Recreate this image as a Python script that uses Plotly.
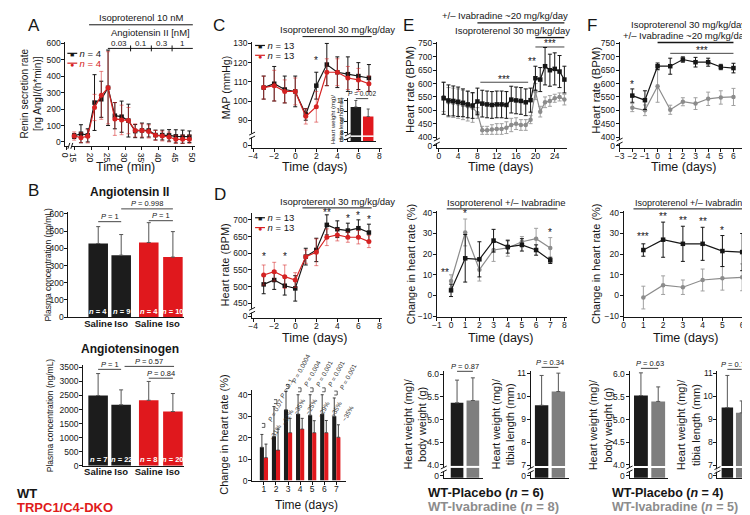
import plotly.graph_objects as go

W, H = 750, 515
FONT = "Liberation Sans, Arial, Helvetica, sans-serif"
BLACK = "#161616"
RED = "#d52222"
RED_ERR = "rgba(213,34,34,0.55)"
GRAY = "#8c8c8c"
GRAY_ERR = "#a0a0a0"
BAR_BLACK = "#1c1c1c"
BAR_RED = "#e0181d"
BAR_GRAY = "#7e7e7e"
ERR = "#555555"

# ---------------- data ----------------
# A: renin secretion rate
renin_time = [15, 17, 19, 21, 23, 25, 27, 29, 31, 33, 35, 37, 39, 41, 43, 45, 47, 49]
renin_wt = [36, 50, 40, 240, 260, 330, 160, 154, 130, 66, 70, 70, 42, 42, 40, 34, 32, 32]
renin_wt_err = [15, 55, 40, 170, 110, 230, 80, 95, 100, 40, 45, 40, 30, 30, 35, 40, 40, 35]
renin_dko = [36, 26, 34, 210, 284, 330, 140, 134, 130, 70, 70, 64, 40, 36, 30, 16, 16, 16]
renin_dko_err = [25, 30, 40, 80, 146, 220, 100, 90, 80, 40, 40, 40, 30, 30, 30, 25, 25, 25]
renin_xticks = [0, 15, 20, 25, 30, 35, 40, 45, 50]
renin_yticks = [0, 100, 200, 300, 400, 500, 600]
angii_doses = ["0.03", "0.1", "0.3", "1"]

# B: plasma concentrations
b_groups = ["Saline", "Iso", "Saline", "Iso"]
b_genotype = ["WT", "WT", "DKO", "DKO"]
angii = [428, 360, 434, 349]
angii_err = [98, 120, 115, 148]
angii_n = ["4", "9", "4", "10"]
agt = [2500, 2170, 2330, 1930]
agt_err = [780, 530, 670, 640]
agt_n = ["7", "22", "8", "20"]
angii_yticks = [0, 100, 200, 300, 400, 500, 600]
agt_yticks = [0, 500, 1000, 1500, 2000, 2500, 3000, 3500]

# C: mean arterial pressure
days_c = [-3, -2, -1, 0, 1, 2, 3, 4, 5, 6, 7]
map_wt = [107, 109, 106, 105, 93, 108, 119, 115, 114, 113, 112]
map_wt_err = [6, 9, 7, 8, 3, 7, 11, 8, 9, 7, 7]
map_dko = [107, 108, 105, 105, 92, 97, 115, 115, 112, 111, 109]
map_dko_err = [6, 8, 6, 7, 4, 8, 7, 7, 6, 6, 4]
cd_xticks = [-4, -2, 0, 2, 4, 6, 8]
map_yticks = [90, 100, 110, 120, 130]
# C inset: heart weight / tibia length
c_tl = [10.4, 9.5]
c_tl_err = [0.6, 0.7]
c_tl_yticks = [8, 9, 10, 11]

# D: heart rate
hr_wt = [507, 520, 503, 495, 590, 610, 685, 672, 668, 675, 662]
hr_wt_err = [28, 28, 28, 38, 25, 35, 30, 25, 22, 25, 25]
hr_dko = [535, 545, 530, 520, 590, 603, 648, 655, 648, 648, 635]
hr_dko_err = [30, 28, 35, 22, 20, 40, 25, 18, 15, 20, 18]
hr_yticks = [450, 500, 550, 600, 650, 700]

# D bottom: change in heart rate
chg_days = [1, 2, 3, 4, 5, 6, 7]
chg_wt = [15.5, 20.5, 33.0, 31.0, 30.5, 31.0, 30.0]
chg_wt_err = [6.0, 14.0, 8.5, 9.0, 9.5, 9.0, 8.5]
chg_dko = [10.7, 14.2, 22.3, 24.0, 22.3, 22.3, 20.2]
chg_dko_err = [6.3, 9.8, 6.7, 5.0, 5.6, 5.7, 5.8]
chg_p = ["P = 0.07", "P = 0.1", "P = 0.0004", "P = 0.004", "P = 0.001", "P = 0.001", "P = 0.001"]
chg_pct = ["~31%", "~32%", "~35%", "~25%", "~29%", "~35%", "~35%"]
chg_yticks = [0, 10, 20, 30, 40]

# E: heart rate, placebo vs ivabradine
days_e = [1, 2, 3, 4, 5, 6, 7, 8, 9, 10, 11, 12, 13, 14, 15, 16, 17, 18, 19, 20, 21, 22, 23, 24, 25, 26]
e_plac = [545, 537, 535, 532, 528, 522, 518, 533, 525, 522, 520, 522, 522, 520, 540, 537, 535, 530, 538, 620, 615, 665, 650, 655, 645, 615]
e_plac_err = [60, 58, 56, 55, 52, 50, 48, 50, 50, 50, 50, 50, 50, 50, 50, 50, 50, 50, 45, 45, 45, 70, 60, 60, 60, 50]
e_ivab = [550, 530, 528, 525, 520, 515, 510, 490, 425, 425, 428, 430, 430, 435, 445, 450, 445, 445, 465, 570, 495, 530, 535, 545, 550, 540]
e_ivab_err = [55, 55, 55, 55, 55, 55, 55, 20, 15, 15, 18, 20, 20, 22, 25, 22, 20, 20, 15, 30, 20, 20, 20, 15, 15, 20]
e_xticks = [0, 4, 8, 12, 16, 20, 24]
ef_hr_yticks = [400, 450, 500, 550, 600, 650, 700, 750]

# E middle: change in heart rate
days_em = [0, 1, 2, 3, 4, 5, 6, 7]
em_plac = [2.5, 18, 17.5, 26.5, 23.5, 24.5, 22, 17]
em_plac_err = [3, 11.5, 8.5, 5.5, 3, 3, 2.5, 1.5]
em_ivab = [7, 30.5, 12.5, 22, 23, 26, 27.5, 23]
em_ivab_err = [3, 6.5, 5.5, 5.5, 4, 2.5, 5, 5]
em_xticks = [-1, 0, 1, 2, 3, 4, 5, 6, 7, 8]
chg2_yticks = [-10, 0, 10, 20, 30, 40]

# E bottom: heart weight
e_bw = [5.37, 5.42]
e_bw_err = [0.50, 0.50]
e_tl = [9.6, 10.2]
e_tl_err = [1.3, 0.8]

# F: heart rate
days_f = [-2, -1, 0, 1, 2, 3, 4, 5, 6]
f_plac = [555, 538, 665, 665, 690, 680, 680, 662, 658]
f_plac_err = [25, 35, 12, 30, 10, 18, 15, 10, 18]
f_ivab = [510, 500, 590, 502, 532, 525, 543, 548, 550]
f_ivab_err = [15, 20, 60, 17, 15, 22, 25, 25, 32]
f_xticks = [-3, -2, -1, 0, 1, 2, 3, 4, 5, 6, 7]

# F middle
days_fm = [1, 2, 3, 4, 5, 6]
fm_plac = [22, 27, 25, 25, 21.5, 21]
fm_plac_err = [3, 8.5, 8.5, 8, 7.5, 9]
fm_ivab = [-1, 5, 4, 7.5, 8.3, 8.8]
fm_ivab_err = [5.5, 4.5, 3.5, 5.3, 5.7, 6.5]
fm_xticks = [0, 1, 2, 3, 4, 5, 6]

# F bottom
f_bw = [5.53, 5.40]
f_bw_err = [0.50, 0.32]
f_tl = [9.5, 9.27]
f_tl_err = [1.4, 0.52]
bw_yticks = [4.0, 4.5, 5.0, 5.5, 6.0]
tl_yticks = [7, 8, 9, 10, 11]

# ---------------- layout helpers ----------------
B_SLOTS = [0, 1, 2.2, 3.25]
PAIR = [0, 1]
ann, shp, traces = [], [], []
axis_layout = {}


def fmt(v):
    return ("%g" % v).replace("-", "\u2212")


class Ax:
    count = 0

    def __init__(self, box, xr, yr, xt=None, yt=None, xlabels=True, xticks=True, fs=8.5, xfs=None):
        Ax.count += 1
        n = Ax.count
        s = "" if n == 1 else str(n)
        self.x, self.y = "x" + s, "y" + s
        self.x0, self.x1, self.yt, self.yb = box
        self.xr, self.yr = xr, yr
        base = dict(showgrid=False, zeroline=False, showline=True, linecolor=BLACK, linewidth=1,
                    ticks="outside", ticklen=3, tickwidth=1, tickcolor=BLACK,
                    tickfont=dict(family=FONT, size=fs, color=BLACK), fixedrange=True)
        xa = dict(base, domain=[self.x0 / W, self.x1 / W], range=list(xr), anchor=self.y,
                  ticklabelstandoff=-3)
        if xfs:
            xa["tickfont"] = dict(family=FONT, size=xfs, color=BLACK)
        if xt is not None:
            xa.update(tickmode="array", tickvals=xt[0], ticktext=xt[1])
        if not xlabels:
            xa.update(showticklabels=False)
        if not xticks:
            xa.update(ticks="")
        ya = dict(base, domain=[1 - self.yb / H, 1 - self.yt / H], range=list(yr), anchor=self.x,
                  ticklabelstandoff=-1)
        if yt is not None:
            ya.update(tickmode="array", tickvals=yt[0], ticktext=yt[1])
        axis_layout["xaxis" + s] = xa
        axis_layout["yaxis" + s] = ya

    def px(self, v):
        return self.x0 + (v - self.xr[0]) / (self.xr[1] - self.xr[0]) * (self.x1 - self.x0)

    def py(self, v):
        return self.yb - (v - self.yr[0]) / (self.yr[1] - self.yr[0]) * (self.yb - self.yt)


def T(x, y, s, size=9, color=BLACK, xa="center", ya="middle", angle=0):
    ann.append(dict(x=x / W, y=1 - y / H, xref="paper", yref="paper", text=s, showarrow=False,
                    xanchor=xa, yanchor=ya, textangle=angle, borderpad=0,
                    font=dict(family=FONT, size=size, color=color)))


def L(x0, y0, x1, y1, color=BLACK, width=1):
    shp.append(dict(type="line", xref="paper", yref="paper", x0=x0 / W, y0=1 - y0 / H,
                    x1=x1 / W, y1=1 - y1 / H, line=dict(color=color, width=width)))


def R(x0, y0, x1, y1, color="white"):
    shp.append(dict(type="rect", xref="paper", yref="paper", x0=x0 / W, y0=1 - y0 / H,
                    x1=x1 / W, y1=1 - y1 / H, line=dict(width=0), fillcolor=color))


def series(ax, x, y, e, color, symbol, ecolor, size=5, lw=1.2):
    traces.append(go.Scatter(x=x, y=y, xaxis=ax.x, yaxis=ax.y, mode="lines+markers",
                             line=dict(color=color, width=lw),
                             marker=dict(symbol=symbol, size=size, color=color, line=dict(width=0)),
                             error_y=dict(type="data", array=e, color=ecolor, thickness=1, width=2),
                             cliponaxis=False, showlegend=False, hoverinfo="skip"))


def bars(ax, x, y, e, colors, width, ecolor=ERR, offset=None, ewidth=2):
    kw = dict(offset=offset) if offset is not None else {}
    traces.append(go.Bar(x=x, y=y, xaxis=ax.x, yaxis=ax.y, width=width,
                         marker=dict(color=colors, line=dict(width=0)),
                         error_y=dict(type="data", symmetric=False, array=e, arrayminus=[0] * len(e),
                                      color=ecolor, thickness=1, width=ewidth),
                         showlegend=False, hoverinfo="skip", **kw))


def ybreak(ax, v):
    x, y = ax.x0, ax.py(v)
    R(x - 1.2, y - 2, x + 1.2, y + 2)
    L(x - 3, y - 0.5, x + 3, y - 3.5)
    L(x - 3, y + 3.5, x + 3, y + 0.5)


def pline(ax, xa, xb, ypx, text, size=7.5):
    L(ax.px(xa), ypx, ax.px(xb), ypx, BLACK, 0.8)
    T((ax.px(xa) + ax.px(xb)) / 2, ypx - 5, text, size=size)


def legend_item(x, y, color, sym, text, tcolor=BLACK, fs=9.5):
    # short line through the marker, then one annotation holding marker + label
    L(x, y, x + 10, y, color, 1.2)
    T(x + 1.6, y,
      '<span style="color:%s;font-size:7px">%s</span>&nbsp;&nbsp;<span style="color:%s">%s</span>'
      % (color, sym, tcolor, text), size=fs, color=tcolor, xa="left")


# ---------------- Panel A ----------------
A_ZERO = 12.6
axA = Ax((52, 183, 31, 137), (12.4, 50.6), (-24, 612),
         xt=([A_ZERO] + renin_xticks[1:], [fmt(v) for v in renin_xticks]),
         yt=(renin_yticks, [fmt(v) for v in renin_yticks]))
series(axA, renin_time, renin_wt, renin_wt_err, BLACK, "square", BLACK, 4.5)
series(axA, renin_time, renin_dko, renin_dko_err, RED, "circle", RED_ERR, 5)
bx, by = 57, axA.yb
R(bx - 1.5, by - 1.5, bx + 1.5, by + 1.5)
L(bx - 2.5, by + 3, bx - 0.5, by - 3)
L(bx + 0.5, by + 3, bx + 2.5, by - 3)
T(20, 15, "A", 17)
T(129, 7, "Isoproterenol 10 nM", 9.5)
L(76, 14, 181, 14)
T(138, 22, "Angiotensin II [nM]", 9.5)
L(95, 38, 181, 38)
for xd in [118, 139, 160]:
    L(xd, 35, xd, 41)
for lbl, xl in zip(angii_doses, [106, 128.5, 149.5, 170.5]):
    T(xl, 33, lbl, 8)
legend_item(54, 43, BLACK, "■", "<i>n</i> = 4")
legend_item(54, 53, RED, "●", "<i>n</i> = 4", RED)
T(17, 84, "Renin secretion rate<br>[ng AngI/(h*min)]", 10, angle=-90)
T(113, 158, "Time (min)", 12.5)

# ---------------- Panel B ----------------
bcol = [BAR_BLACK if g == "WT" else BAR_RED for g in b_genotype]
blabels = ["<b>%s</b>" % g for g in b_groups]
axB1 = Ax((55, 172, 204, 311), (-1.3, 3.73), (0, 612),
          xt=(B_SLOTS, blabels), yt=(angii_yticks, [fmt(v) for v in angii_yticks]),
          xticks=False, xfs=9.5)
bars(axB1, B_SLOTS, angii, angii_err, bcol, 0.85)
for s, n in zip(B_SLOTS, angii_n):
    T(axB1.px(s), axB1.py(0) - 6, "<b><i>n</i> = %s</b>" % n, 7.5, "white")
T(20, 182, "B", 17)
T(117, 184, "<b>Angiotensin II</b>", 12)
T(34, 258, "Plasma concentration (pg/mL)", 8.5, angle=-90)
pline(axB1, 0, 1, 214, "<i>P</i> = 1")
pline(axB1, 1, 3.25, 201, "<i>P</i> = 0.998")
pline(axB1, 2.2, 3.25, 213, "<i>P</i> = 1")

axB2 = Ax((70, 172, 360, 462), (-0.65, 3.73), (0, 3570),
          xt=(B_SLOTS, blabels), yt=(agt_yticks, [fmt(v) for v in agt_yticks]),
          xticks=False, xfs=9.5)
bars(axB2, B_SLOTS, agt, agt_err, bcol, 0.85)
for s, n in zip(B_SLOTS, agt_n):
    T(axB2.px(s), axB2.py(0) - 6, "<b><i>n</i> = %s</b>" % n, 7.5, "white")
T(117, 343, "<b>Angiotensinogen</b>", 12)
T(36, 411, "Plasma concentration (ng/mL)", 8.5, angle=-90)
pline(axB2, 0, 1, 364, "<i>P</i> = 1")
pline(axB2, 1.15, 3.3, 361, "<i>P</i> = 0.57")
pline(axB2, 2.2, 3.25, 373, "<i>P</i> = 0.84")

T(2, 490, "<b>WT</b>", 13, BLACK, xa="left")
T(2, 504, "<b>TRPC1/C4-DKO</b>", 13, "#e01b1b", xa="left")

# ---------------- Panel C ----------------
MAP_ZERO = 77
axC = Ax((241, 372, 31, 139), (-4.1, 8.2), (75.6, 131),
         xt=(cd_xticks, [fmt(v) for v in cd_xticks]),
         yt=([MAP_ZERO] + map_yticks, ["0"] + [fmt(v) for v in map_yticks]))
series(axC, days_c, map_wt, map_wt_err, BLACK, "square", BLACK, 4.5)
series(axC, days_c, map_dko, map_dko_err, RED, "circle", RED_ERR, 5)
ybreak(axC, 82)
T(207, 15, "C", 17)
T(214, 78, "MAP (mmHg)", 10.5, angle=-90)
T(327, 19, "Isoproterenol 30 mg/kg/day", 9.5)
L(292, 26, 362, 26)
legend_item(244, 35, BLACK, "■", "<i>n</i> = 13")
legend_item(244, 45, RED, "●", "<i>n</i> = 13")
T(axC.px(2), axC.py(121), "*", 10)
T(305, 158, "Time (days)", 12.5)
CIN_ZERO = 7.3
axCin = Ax((338, 366, 88, 132), (-0.64, 1.6), (7.2, 11.27),
           yt=([CIN_ZERO] + c_tl_yticks, ["0"] + [fmt(v) for v in c_tl_yticks]),
           xlabels=False, xticks=False, fs=6.5)
bars(axCin, PAIR, c_tl, c_tl_err, [BAR_BLACK, BAR_RED], 0.85, ewidth=1.5)
L(axCin.px(-0.45), axCin.py(7.65), axCin.px(1.45), axCin.py(7.65), "white", 1.5)
ybreak(axCin, 7.62)
pline(axCin, 0, 1, 89, "<i>P</i> = 0.002", 6.5)
T(327, 110, "Heart weight (mg)/<br>tibia length (mm)", 6, angle=-90)

# ---------------- Panel D ----------------
HR_ZERO = 412
axD = Ax((241, 372, 205, 312), (-4.1, 8.2), (406, 721),
         xt=(cd_xticks, [fmt(v) for v in cd_xticks]),
         yt=([HR_ZERO] + hr_yticks, ["0"] + [fmt(v) for v in hr_yticks]))
series(axD, days_c, hr_wt, hr_wt_err, BLACK, "square", BLACK, 4.5)
series(axD, days_c, hr_dko, hr_dko_err, RED, "circle", RED_ERR, 5)
ybreak(axD, 428)
T(208, 186, "D", 17)
T(214, 258, "Heart rate (BPM)", 11, angle=-90)
T(327, 193, "Isoproterenol 30 mg/kg/day", 9.5)
L(292, 200, 362, 200)
legend_item(244, 210, BLACK, "■", "<i>n</i> = 13")
legend_item(244, 220, RED, "●", "<i>n</i> = 13")
for d, yv, s in [(-3, 590, "*"), (-1, 590, "*"), (3, 722, "**"), (5, 704, "*"), (6, 713, "*"), (7, 700, "*")]:
    T(axD.px(d), axD.py(yv), s, 10)
T(305, 332, "Time (days)", 12.5)

axDb = Ax((241, 336, 385, 477), (0.02, 7.8), (0, 42.2),
          xt=(chg_days, [fmt(v) for v in chg_days]),
          yt=(chg_yticks, [fmt(v) for v in chg_yticks]))
bars(axDb, chg_days, chg_wt, chg_wt_err, BAR_BLACK, 0.34, "#444444", offset=-0.34, ewidth=1.5)
bars(axDb, chg_days, chg_dko, chg_dko_err, BAR_RED, 0.34, "#444444", offset=0.0, ewidth=1.5)
for d, w, we, k, ke, ptxt, pct in zip(chg_days, chg_wt, chg_wt_err, chg_dko, chg_dko_err, chg_p, chg_pct):
    xb = axDb.px(d - 0.17)
    xr = axDb.px(d + 0.17)
    ytop_r = axDb.py(k + ke)
    T(xr + 0.5, ytop_r - 1, pct, 6.5, "#333333", xa="left", ya="bottom", angle=-60)
    yb = min(axDb.py(w + we) - 3, ytop_r - 17)
    L(xb, yb, xb + 3, yb, "#333333", 0.8)
    L(xb + 3, yb, xb + 3, yb - 4, "#333333", 0.8)
    L(xb, yb - 4, xb + 3, yb - 4, "#333333", 0.8)
    T(xb + 3, yb - 3, ptxt.replace("P", "<i>P</i>"), 6.5, "#333333", xa="left", ya="bottom", angle=-62)
T(213, 430, "Change in heart rate (%)", 11, angle=-90)
T(296, 502, "Time (days)", 12)

# ---------------- Panel E ----------------
EF_ZERO = 367
axE = Ax((428, 560, 31, 139), (-0.4, 26.6), (359.5, 757.4),
         xt=(e_xticks, [fmt(v) for v in e_xticks]),
         yt=([EF_ZERO] + ef_hr_yticks, ["0"] + [fmt(v) for v in ef_hr_yticks]))
series(axE, days_e, e_ivab, e_ivab_err, GRAY, "circle", GRAY_ERR, 4.5)
series(axE, days_e, e_plac, e_plac_err, BLACK, "square", BLACK, 4.5)
ybreak(axE, 383)
T(399, 15, "E", 17)
T(497, 5, "+/\u2013 Ivabradine ~20 mg/kg/day", 9.5)
L(axE.px(8), 12, axE.px(26), 12, BLACK, 1.3)
T(505, 20, "Isoproterenol 30 mg/kg/day", 9.5)
L(axE.px(20), 27, axE.px(26), 27, BLACK, 1.3)
L(axE.px(8.6), axE.py(605), axE.px(18.5), axE.py(605), BLACK, 0.8)
T(axE.px(13.5), axE.py(617), "***", 10)
T(axE.px(19.2), axE.py(682), "**", 10)
L(axE.px(20), axE.py(737), axE.px(26), axE.py(737), BLACK, 0.8)
T(axE.px(23), axE.py(749), "***", 10)
T(401, 80, "Heart rate (BPM)", 11.5, angle=-90)
T(493, 158, "Time (days)", 12.5)

axEm = Ax((428, 560, 203, 311), (-1, 8.2), (-10.48, 40.95),
          xt=(em_xticks, [fmt(v) for v in em_xticks]),
          yt=(chg2_yticks, [fmt(v) for v in chg2_yticks]))
series(axEm, days_em, em_ivab, em_ivab_err, GRAY, "circle", GRAY_ERR, 4.5)
series(axEm, days_em, em_plac, em_plac_err, BLACK, "square", BLACK, 4.5)
T(498, 195, "Isoproterenol +/\u2013 Ivabradine", 9.5)
L(438, 201, 550, 201)
T(axEm.px(-0.45), axEm.py(11), "**", 10)
T(axEm.px(1), axEm.py(39.5), "*", 10)
T(axEm.px(7), axEm.py(30.5), "*", 10)
T(402, 257, "Change in heart rate (%)", 11, angle=-90)
T(493, 332, "Time (days)", 12.5)

BW_ZERO = 3.766
TL_ZERO = 6.54
axE1 = Ax((435, 475, 366, 474), (-0.84, 1.66), (3.72, 6.064),
          yt=([BW_ZERO] + bw_yticks, ["0"] + ["%.1f" % v for v in bw_yticks]),
          xlabels=False, xticks=False)
bars(axE1, PAIR, e_bw, e_bw_err, [BAR_BLACK, BAR_GRAY], 0.8)
L(axE1.px(-0.5), axE1.py(4.0) + 2, axE1.px(1.5), axE1.py(4.0) + 2, "white", 2)
ybreak(axE1, 3.9)
pline(axE1, 0, 1, 366, "<i>P</i> = 0.87")
T(406, 420, "Heart weight (mg)/<br>body weight (g)", 11, angle=-90)

axE2 = Ax((523, 562, 366, 474), (-0.65, 1.65), (6.45, 11.08),
          yt=([TL_ZERO] + tl_yticks, ["0"] + [fmt(v) for v in tl_yticks]),
          xlabels=False, xticks=False)
bars(axE2, PAIR, e_tl, e_tl_err, [BAR_BLACK, BAR_GRAY], 0.8)
L(axE2.px(-0.5), axE2.py(7.0) + 2, axE2.px(1.5), axE2.py(7.0) + 2, "white", 2)
ybreak(axE2, 6.78)
pline(axE2, 0, 1, 362, "<i>P</i> = 0.34")
T(495, 420, "Heart weight (mg)/<br>tibia length (mm)", 11, angle=-90)

T(418, 489, "<b>WT-Placebo (<i>n</i> = 6)</b>", 13, BLACK, xa="left")
T(418, 503, "<b>WT-Ivabradine (<i>n</i> = 8)</b>", 13, GRAY, xa="left")

# ---------------- Panel F ----------------
axF = Ax((613, 741, 31, 139), (-3.0, 7.0), (359.5, 757.4),
         xt=(f_xticks, [fmt(v) for v in f_xticks]),
         yt=([EF_ZERO] + ef_hr_yticks, ["0"] + [fmt(v) for v in ef_hr_yticks]))
series(axF, days_f, f_ivab, f_ivab_err, GRAY, "circle", GRAY_ERR, 4.5)
series(axF, days_f, f_plac, f_plac_err, BLACK, "square", BLACK, 4.5)
ybreak(axF, 383)
T(585, 15, "F", 17)
T(683, 14, "Isoproterenol 30 mg/kg/day", 9.5)
T(680, 25, "+/\u2013 Ivabradine ~20 mg/kg/day", 9.5)
L(axF.px(0), 32, axF.px(6), 32, BLACK, 1.3)
T(axF.px(3.5), 40, "***", 10)
L(axF.px(1), 43, axF.px(6), 43, BLACK, 0.8)
T(axF.px(-2), axF.py(598), "*", 10)
T(589, 80, "Heart rate (BPM)", 11.5, angle=-90)
T(678, 158, "Time (days)", 12.5)

axFm = Ax((617, 745, 203, 311), (0, 6.4), (-10.48, 40.95),
          xt=(fm_xticks, [fmt(v) for v in fm_xticks]),
          yt=(chg2_yticks, [fmt(v) for v in chg2_yticks]))
series(axFm, days_fm, fm_ivab, fm_ivab_err, GRAY, "circle", GRAY_ERR, 4.5)
series(axFm, days_fm, fm_plac, fm_plac_err, BLACK, "square", BLACK, 4.5)
T(685, 195, "Isoproterenol +/\u2013 Ivabradine", 9)
L(627, 201, 745, 201)
for d, yv, s in [(1, 28.5, "***"), (2, 38, "**"), (3, 36.5, "**"), (4, 36, "**"), (5, 31.5, "*")]:
    T(axFm.px(d), axFm.py(yv), s, 10)
T(589, 257, "Change in heart rate (%)", 11, angle=-90)
T(680, 332, "Time (days)", 12.5)

axF1 = Ax((623, 662, 366, 474), (-0.66, 1.57), (3.72, 6.064),
          yt=([BW_ZERO] + bw_yticks, ["0"] + ["%.1f" % v for v in bw_yticks]),
          xlabels=False, xticks=False)
bars(axF1, PAIR, f_bw, f_bw_err, [BAR_BLACK, BAR_GRAY], 0.8)
L(axF1.px(-0.5), axF1.py(4.0) + 2, axF1.px(1.5), axF1.py(4.0) + 2, "white", 2)
ybreak(axF1, 3.9)
pline(axF1, 0, 1, 363, "<i>P</i> = 0.63")
T(594, 420, "Heart weight (mg)/<br>body weight (g)", 11, angle=-90)

axF2 = Ax((712, 747, 366, 474), (-0.69, 1.72), (6.45, 11.08),
          yt=([TL_ZERO] + tl_yticks, ["0"] + [fmt(v) for v in tl_yticks]),
          xlabels=False, xticks=False)
bars(axF2, PAIR, f_tl, f_tl_err, [BAR_BLACK, BAR_GRAY], 0.8)
L(axF2.px(-0.5), axF2.py(7.0) + 2, axF2.px(1.5), axF2.py(7.0) + 2, "white", 2)
ybreak(axF2, 6.78)
pline(axF2, 0, 1, 364, "<i>P</i> = 0.73")
T(683, 420, "Heart weight (mg)/<br>tibia length (mm)", 11, angle=-90)

T(604, 490, "<b>WT-Placebo (<i>n</i> = 4)</b>", 12.5, BLACK, xa="left")
T(604, 504, "<b>WT-Ivabradine (<i>n</i> = 5)</b>", 12.5, GRAY, xa="left")

# ---------------- figure ----------------
fig = go.Figure(data=traces)
fig.update_layout(width=W, height=H, autosize=False, margin=dict(l=0, r=0, t=0, b=0, pad=0),
                  paper_bgcolor="white", plot_bgcolor="white", showlegend=False,
                  barmode="overlay", hovermode=False,
                  font=dict(family=FONT, size=9, color=BLACK),
                  annotations=ann, shapes=shp, **axis_layout)
fig.write_html("out.html", include_plotlyjs=True, config={"displayModeBar": False, "staticPlot": True})
